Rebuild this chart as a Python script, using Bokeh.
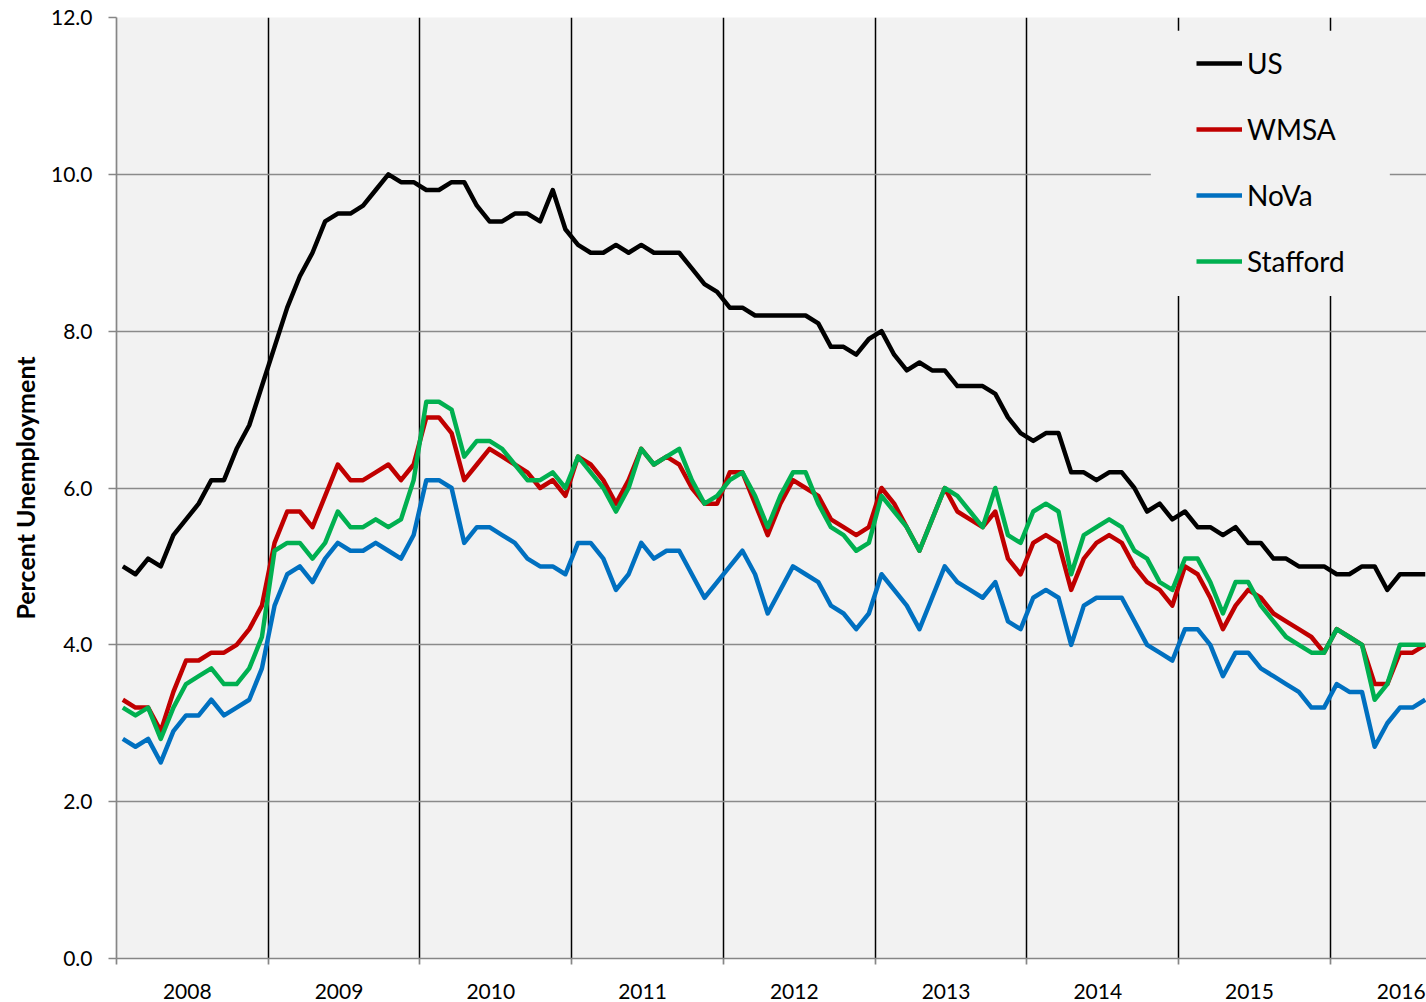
from bokeh.plotting import figure
from bokeh.models import (ColumnDataSource, Range1d, FixedTicker, PrintfTickFormatter,
                          Legend, LegendItem)
from bokeh.embed import file_html
from bokeh.resources import INLINE

# ---------------- data (monthly, Jan 2008 - Aug 2016) ----------------
years = ["2008", "2009", "2010", "2011", "2012", "2013", "2014", "2015", "2016"]

us = [5.0, 4.9, 5.1, 5.0, 5.4, 5.6, 5.8, 6.1, 6.1, 6.5, 6.8, 7.3,
      7.8, 8.3, 8.7, 9.0, 9.4, 9.5, 9.5, 9.6, 9.8, 10.0, 9.9, 9.9,
      9.8, 9.8, 9.9, 9.9, 9.6, 9.4, 9.4, 9.5, 9.5, 9.4, 9.8, 9.3,
      9.1, 9.0, 9.0, 9.1, 9.0, 9.1, 9.0, 9.0, 9.0, 8.8, 8.6, 8.5,
      8.3, 8.3, 8.2, 8.2, 8.2, 8.2, 8.2, 8.1, 7.8, 7.8, 7.7, 7.9,
      8.0, 7.7, 7.5, 7.6, 7.5, 7.5, 7.3, 7.3, 7.3, 7.2, 6.9, 6.7,
      6.6, 6.7, 6.7, 6.2, 6.2, 6.1, 6.2, 6.2, 6.0, 5.7, 5.8, 5.6,
      5.7, 5.5, 5.5, 5.4, 5.5, 5.3, 5.3, 5.1, 5.1, 5.0, 5.0, 5.0,
      4.9, 4.9, 5.0, 5.0, 4.7, 4.9, 4.9, 4.9]

wmsa = [3.3, 3.2, 3.2, 2.9, 3.4, 3.8, 3.8, 3.9, 3.9, 4.0, 4.2, 4.5,
        5.3, 5.7, 5.7, 5.5, 5.9, 6.3, 6.1, 6.1, 6.2, 6.3, 6.1, 6.3,
        6.9, 6.9, 6.7, 6.1, 6.3, 6.5, 6.4, 6.3, 6.2, 6.0, 6.1, 5.9,
        6.4, 6.3, 6.1, 5.8, 6.1, 6.5, 6.3, 6.4, 6.3, 6.0, 5.8, 5.8,
        6.2, 6.2, 5.8, 5.4, 5.8, 6.1, 6.0, 5.9, 5.6, 5.5, 5.4, 5.5,
        6.0, 5.8, 5.5, 5.2, 5.6, 6.0, 5.7, 5.6, 5.5, 5.7, 5.1, 4.9,
        5.3, 5.4, 5.3, 4.7, 5.1, 5.3, 5.4, 5.3, 5.0, 4.8, 4.7, 4.5,
        5.0, 4.9, 4.6, 4.2, 4.5, 4.7, 4.6, 4.4, 4.3, 4.2, 4.1, 3.9,
        4.2, 4.1, 4.0, 3.5, 3.5, 3.9, 3.9, 4.0]

nova = [2.8, 2.7, 2.8, 2.5, 2.9, 3.1, 3.1, 3.3, 3.1, 3.2, 3.3, 3.7,
        4.5, 4.9, 5.0, 4.8, 5.1, 5.3, 5.2, 5.2, 5.3, 5.2, 5.1, 5.4,
        6.1, 6.1, 6.0, 5.3, 5.5, 5.5, 5.4, 5.3, 5.1, 5.0, 5.0, 4.9,
        5.3, 5.3, 5.1, 4.7, 4.9, 5.3, 5.1, 5.2, 5.2, 4.9, 4.6, 4.8,
        5.0, 5.2, 4.9, 4.4, 4.7, 5.0, 4.9, 4.8, 4.5, 4.4, 4.2, 4.4,
        4.9, 4.7, 4.5, 4.2, 4.6, 5.0, 4.8, 4.7, 4.6, 4.8, 4.3, 4.2,
        4.6, 4.7, 4.6, 4.0, 4.5, 4.6, 4.6, 4.6, 4.3, 4.0, 3.9, 3.8,
        4.2, 4.2, 4.0, 3.6, 3.9, 3.9, 3.7, 3.6, 3.5, 3.4, 3.2, 3.2,
        3.5, 3.4, 3.4, 2.7, 3.0, 3.2, 3.2, 3.3]

stafford = [3.2, 3.1, 3.2, 2.8, 3.2, 3.5, 3.6, 3.7, 3.5, 3.5, 3.7, 4.1,
            5.2, 5.3, 5.3, 5.1, 5.3, 5.7, 5.5, 5.5, 5.6, 5.5, 5.6, 6.1,
            7.1, 7.1, 7.0, 6.4, 6.6, 6.6, 6.5, 6.3, 6.1, 6.1, 6.2, 6.0,
            6.4, 6.2, 6.0, 5.7, 6.0, 6.5, 6.3, 6.4, 6.5, 6.1, 5.8, 5.9,
            6.1, 6.2, 5.9, 5.5, 5.9, 6.2, 6.2, 5.8, 5.5, 5.4, 5.2, 5.3,
            5.9, 5.7, 5.5, 5.2, 5.6, 6.0, 5.9, 5.7, 5.5, 6.0, 5.4, 5.3,
            5.7, 5.8, 5.7, 4.9, 5.4, 5.5, 5.6, 5.5, 5.2, 5.1, 4.8, 4.7,
            5.1, 5.1, 4.8, 4.4, 4.8, 4.8, 4.5, 4.3, 4.1, 4.0, 3.9, 3.9,
            4.2, 4.1, 4.0, 3.3, 3.5, 4.0, 4.0, 4.0]

y_ticks = [0, 2, 4, 6, 8, 10, 12]

# ---------------- build ----------------
n = len(us)
x = [i + 0.5 for i in range(n)]          # month centres (0 = start of Jan 2008)
src = ColumnDataSource(dict(x=x, us=us, wmsa=wmsa, nova=nova, stafford=stafford))

year_label_pos = [12 * k + 5.6 for k in range(len(years))]
year_bounds = [12 * k for k in range(len(years) + 1)]

FONT = "Lato"
GRID_GRAY = "#8A8A8A"
AXIS_GRAY = "#868686"

p = figure(width=1426, height=1002, output_backend="svg", toolbar_location=None,
           x_range=Range1d(0, 103.6), y_range=Range1d(0, 12),
           min_border_left=116, min_border_right=0, min_border_top=17, min_border_bottom=44)
p.background_fill_color = "#F2F2F2"
p.border_fill_color = "white"
p.outline_line_color = None

# grids
p.ygrid.ticker = FixedTicker(ticks=y_ticks)
p.ygrid.grid_line_color = GRID_GRAY
p.ygrid.grid_line_width = 1.7
p.xgrid.ticker = FixedTicker(ticks=year_bounds[1:-1])
p.xgrid.grid_line_color = "black"
p.xgrid.grid_line_width = 1.5

# y axis
p.yaxis.ticker = FixedTicker(ticks=y_ticks)
p.yaxis.formatter = PrintfTickFormatter(format="%.1f")
p.yaxis.axis_line_color = AXIS_GRAY
p.yaxis.axis_line_width = 1.7
p.yaxis.major_tick_line_color = AXIS_GRAY
p.yaxis.major_tick_line_width = 1.7
p.yaxis.major_tick_out = 8
p.yaxis.major_tick_in = 0
p.yaxis.minor_tick_line_color = None
p.yaxis.major_label_text_font = FONT
p.yaxis.major_label_text_font_size = "21px"
p.yaxis.major_label_text_color = "black"
p.yaxis.major_label_standoff = 16
p.yaxis.axis_label = "Percent Unemployment"
p.yaxis.axis_label_text_font = FONT
p.yaxis.axis_label_text_font_style = "bold"
p.yaxis.axis_label_text_font_size = "25px"
p.yaxis.axis_label_text_color = "black"
p.yaxis.axis_label_standoff = 8

# x axis: labels centred on years, ticks on year boundaries
p.xaxis.ticker = FixedTicker(ticks=year_label_pos, minor_ticks=year_bounds)
p.xaxis.major_label_overrides = {c: y for c, y in zip(year_label_pos, years)}
p.xaxis.axis_line_color = AXIS_GRAY
p.xaxis.axis_line_width = 1.7
p.xaxis.major_tick_line_color = None
p.xaxis.major_tick_out = 0
p.xaxis.major_tick_in = 0
p.xaxis.minor_tick_line_color = AXIS_GRAY
p.xaxis.minor_tick_line_width = 1.7
p.xaxis.minor_tick_out = 6
p.xaxis.minor_tick_in = 0
p.xaxis.major_label_text_font = FONT
p.xaxis.major_label_text_font_size = "21px"
p.xaxis.major_label_text_color = "black"
p.xaxis.major_label_standoff = 19

# legend background box (covers grid lines like the original)
p.quad(left=[81.8], right=[100.7], top=[11.83], bottom=[8.45],
       fill_color="#F2F2F2", line_color=None)

r_us = p.line("x", "us", source=src, line_color="black", line_width=4.5, line_join="round")
r_wm = p.line("x", "wmsa", source=src, line_color="#C00000", line_width=4.5, line_join="round")
r_nv = p.line("x", "nova", source=src, line_color="#0070C0", line_width=4.5, line_join="round")
r_st = p.line("x", "stafford", source=src, line_color="#00B050", line_width=4.5, line_join="round")

legend = Legend(items=[LegendItem(label="US", renderers=[r_us]),
                       LegendItem(label="WMSA", renderers=[r_wm]),
                       LegendItem(label="NoVa", renderers=[r_nv]),
                       LegendItem(label="Stafford", renderers=[r_st])],
                location=(1080, 679), orientation="vertical",
                padding=0, margin=0, spacing=30,
                glyph_width=46, glyph_height=36, label_height=36, label_standoff=5,
                background_fill_alpha=0, border_line_color=None,
                label_text_font=FONT, label_text_font_size="28px", label_text_color="black")
p.add_layout(legend, "center")

open("out.html", "w").write(file_html(p, INLINE))
